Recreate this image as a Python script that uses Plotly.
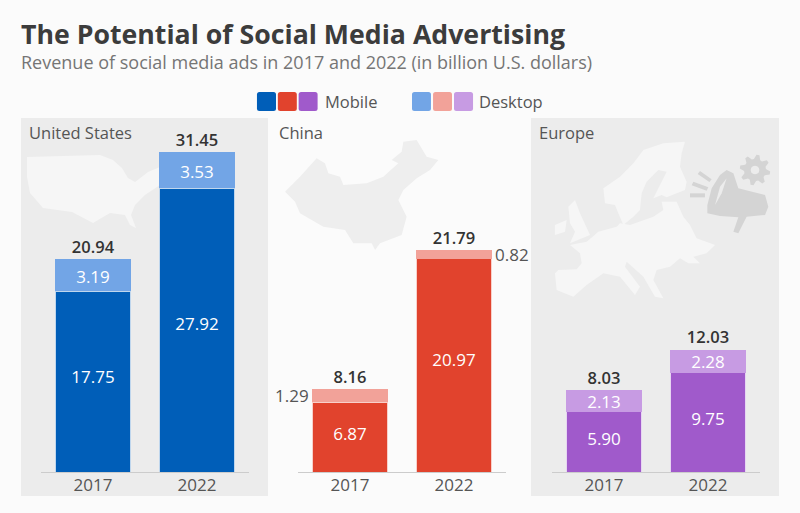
import math
import plotly.graph_objects as go

years = ["2017", "2022"]
regions = ["United States", "China", "Europe"]
mobile_us = [17.75, 27.92]
desktop_us = [3.19, 3.53]
total_us = [20.94, 31.45]
mobile_cn = [6.87, 20.97]
desktop_cn = [1.29, 0.82]
total_cn = [8.16, 21.79]
mobile_eu = [5.90, 9.75]
desktop_eu = [2.13, 2.28]
total_eu = [8.03, 12.03]
mobile_colors = ["#005eb8", "#e1432d", "#a05acb"]
desktop_colors = ["#72a5e6", "#f2a299", "#c79be3"]

W, H = 800, 513
FONT = "Open Sans"
BG = "#fbfbfb"
PANEL = "#ececec"


def px(x):
    return x / W


def py(y):
    return 1 - y / H


def path(points):
    return "M " + " L ".join(f"{px(x):.4f},{py(y):.4f}" for x, y in points) + " Z"


def zoomed(points, x0, y0):
    return [(x0 + a / 3, y0 + b / 3) for a, b in points]


fig = go.Figure()
data = [
    (mobile_us, desktop_us, total_us, "x", True),
    (mobile_cn, desktop_cn, total_cn, "x2", False),
    (mobile_eu, desktop_eu, total_eu, "x3", True),
]
for i, (mob, desk, tot, xa, show_desk) in enumerate(data):
    fig.add_bar(
        x=years, y=mob, xaxis=xa, yaxis="y", name="Mobile", showlegend=False,
        marker=dict(color=mobile_colors[i], line=dict(width=1, color="rgba(255,255,255,0.75)")),
        hoverinfo="skip",
    )
    fig.add_bar(
        x=years, y=desk, xaxis=xa, yaxis="y", name="Desktop", showlegend=False,
        marker=dict(color=desktop_colors[i], line=dict(width=0)),
        hoverinfo="skip",
    )
    fig.add_scatter(
        x=years, y=[v * 0.515 for v in mob], xaxis=xa, yaxis="y", mode="text", showlegend=False,
        text=[f"{v:.2f}" for v in mob], textposition="middle center",
        textfont=dict(color="#ffffff", size=17, family=FONT), hoverinfo="skip",
    )
    if show_desk:
        fig.add_scatter(
            x=years, y=[m + d * 0.4 for m, d in zip(mob, desk)], xaxis=xa, yaxis="y", mode="text",
            showlegend=False, text=[f"{v:.2f}" for v in desk], textposition="middle center",
            textfont=dict(color="#ffffff", size=17, family=FONT), hoverinfo="skip",
        )
    fig.add_scatter(
        x=years, y=[v + 0.2 for v in tot], xaxis=xa, yaxis="y", mode="text", showlegend=False,
        text=[f"{v:.2f}" for v in tot], textposition="top center",
        textfont=dict(color="#333333", size=16.5, family=FONT, weight=600), hoverinfo="skip",
    )

shapes = []


def rect(x0, y0, x1, y1, color, layer="below"):
    shapes.append(dict(type="rect", xref="paper", yref="paper", x0=px(x0), x1=px(x1),
                       y0=py(y1), y1=py(y0), fillcolor=color, line=dict(width=0), layer=layer))


def poly(points, color, layer="below"):
    shapes.append(dict(type="path", xref="paper", yref="paper", path=path(points),
                       fillcolor=color, line=dict(width=0), layer=layer))


def swatch(x0, y0, size, color, r=2.5):
    x1, y1 = x0 + size, y0 + size
    d = (f"M {px(x0 + r):.4f},{py(y0):.4f} L {px(x1 - r):.4f},{py(y0):.4f} "
         f"Q {px(x1):.4f},{py(y0):.4f} {px(x1):.4f},{py(y0 + r):.4f} "
         f"L {px(x1):.4f},{py(y1 - r):.4f} Q {px(x1):.4f},{py(y1):.4f} {px(x1 - r):.4f},{py(y1):.4f} "
         f"L {px(x0 + r):.4f},{py(y1):.4f} Q {px(x0):.4f},{py(y1):.4f} {px(x0):.4f},{py(y1 - r):.4f} "
         f"L {px(x0):.4f},{py(y0 + r):.4f} Q {px(x0):.4f},{py(y0):.4f} {px(x0 + r):.4f},{py(y0):.4f} Z")
    shapes.append(dict(type="path", xref="paper", yref="paper", path=d, fillcolor=color, line=dict(width=0)))


rect(21, 118, 268, 496, PANEL)
rect(531, 118, 779, 496, PANEL)

# Decorative maps
us_map = [(27, 157), (100, 155), (113, 160), (122, 168), (128, 178), (135, 182), (148, 172), (160, 167),
          (160, 185), (145, 195), (135, 205), (131, 215), (136, 228), (130, 225), (125, 215), (110, 213),
          (93, 223), (72, 212), (43, 208), (30, 193), (27, 177)]
poly(us_map, "#f6f6f6")

china_map = [(45, 215), (90, 170), (140, 115), (165, 130), (175, 160), (210, 170), (220, 195), (290, 190),
             (340, 170), (385, 130), (365, 120), (395, 95), (400, 65), (440, 60), (470, 110), (505, 120),
             (480, 150), (440, 175), (400, 210), (385, 240), (410, 290), (395, 345), (330, 370), (315, 390),
             (305, 370), (250, 370), (225, 330), (160, 320), (90, 280), (75, 245)]
poly(zoomed(china_map, 270, 120), "#eeeeee")

eu_main = [(105, 490), (115, 480), (170, 478), (185, 460), (180, 430), (150, 405), (200, 395), (235, 365),
           (290, 350), (300, 340), (330, 345), (400, 320), (430, 300), (425, 275), (470, 275), (490, 320),
           (510, 345), (530, 385), (585, 405), (560, 430), (520, 440), (540, 460), (505, 460), (480, 445),
           (450, 470), (410, 480), (400, 510), (430, 565), (405, 560), (370, 500), (320, 455), (315, 470),
           (360, 530), (345, 555), (300, 500), (250, 490), (200, 525), (160, 560), (110, 540)]
eu_scand = [(250, 235), (300, 200), (340, 160), (370, 120), (430, 100), (495, 95), (485, 130), (480, 170),
            (500, 215), (495, 240), (440, 262), (425, 255), (400, 265), (440, 185), (415, 180), (380, 215),
            (365, 250), (360, 300), (340, 320), (310, 345), (295, 310), (285, 285), (255, 280)]
eu_uk = [(145, 290), (165, 270), (180, 310), (210, 375), (150, 400), (165, 365), (150, 340)]
eu_ie = [(105, 345), (140, 330), (135, 365), (105, 375)]
for part in (eu_main, eu_scand, eu_uk, eu_ie):
    poly(zoomed(part, 520, 110), "#f6f6f6")

# Megaphone and gear
ICON = "#d4d4d4"
horn = [(562, 310), (562, 285), (575, 235), (600, 195), (620, 180), (640, 190), (655, 235), (735, 255),
        (745, 290), (735, 315), (680, 320), (655, 370), (640, 365), (655, 322), (600, 318)]
poly(zoomed(horn, 520, 110), ICON)
poly(zoomed([(585, 285), (600, 230), (620, 205), (605, 250)], 520, 110), PANEL)
for ray in ([(510, 250), (555, 250), (555, 262), (510, 262)],
            [(520, 215), (565, 232), (560, 242), (515, 226)],
            [(540, 183), (575, 208), (568, 216), (533, 192)]):
    poly(zoomed(ray, 520, 110), ICON)
gear = []
cx, cy = 705, 180
for k in range(32):
    r = 46 if k % 4 in (0, 1) else 33
    a = 2 * math.pi * (k + 0.5) / 32
    gear.append((cx + r * math.cos(a), cy + r * math.sin(a)))
poly(zoomed(gear, 520, 110), ICON)
hole = [(cx + 13 * math.cos(2 * math.pi * k / 12), cy + 13 * math.sin(2 * math.pi * k / 12)) for k in range(12)]
poly(zoomed(hole, 520, 110), PANEL)

annotations = []


def note(x, y, text, size, color, anchor="left", weight=400):
    annotations.append(dict(xref="paper", yref="paper", x=px(x), y=py(y), text=text, showarrow=False,
                            xanchor=anchor, yanchor="middle",
                            font=dict(size=size, color=color, family=FONT, weight=weight),
                            borderpad=0, borderwidth=0))


note(21, 33, "The Potential of Social Media Advertising", 26.7, "#3c3c3c", weight=700)
note(21, 62, "Revenue of social media ads in 2017 and 2022 (in billion U.S. dollars)", 18, "#757575")
note(29, 132, regions[0], 16.5, "#555555")
note(279, 132, regions[1], 16.5, "#555555")
note(539, 132, regions[2], 16.5, "#555555")
note(325, 101, "Mobile", 16.5, "#555555")
note(479, 101, "Desktop", 16.5, "#555555")

for i, c in enumerate(mobile_colors):
    swatch(257 + i * 20.8, 92, 19, c)
for i, c in enumerate(desktop_colors):
    swatch(412 + i * 21, 92, 19, c)

# China's desktop values sit beside their bars
annotations.append(dict(xref="x2", yref="y", x=0, y=mobile_cn[0] + desktop_cn[0] / 2,
                        text=f"{desktop_cn[0]:.2f}", showarrow=False, xanchor="right", xshift=-39,
                        font=dict(size=17, color="#555555", family=FONT)))
annotations.append(dict(xref="x2", yref="y", x=1, y=mobile_cn[1] + desktop_cn[1] / 2,
                        text=f"{desktop_cn[1]:.2f}", showarrow=False, xanchor="left", xshift=39,
                        font=dict(size=17, color="#555555", family=FONT)))

axis = dict(type="category", categoryorder="array", categoryarray=years, range=[-0.5, 1.5],
            showgrid=False, zeroline=False, showline=True, linecolor="#cccccc", linewidth=1,
            ticks="", tickfont=dict(size=17, color="#555555", family=FONT), fixedrange=True,
            anchor="y", automargin=False, ticklabelstandoff=-2)

fig.update_layout(
    width=W, height=H, autosize=False,
    margin=dict(l=0, r=0, t=0, b=0),
    paper_bgcolor=BG, plot_bgcolor="rgba(0,0,0,0)",
    barmode="stack", bargap=0.27, showlegend=False,
    xaxis=dict(axis, domain=[px(41), px(249)]),
    xaxis2=dict(axis, domain=[px(298), px(506)]),
    xaxis3=dict(axis, domain=[px(552), px(760)]),
    yaxis=dict(domain=[py(472), py(116)], range=[0, 35], visible=False, fixedrange=True),
    shapes=shapes, annotations=annotations,
)
fig.write_html("out.html", config=dict(displayModeBar=False),
               post_script="document.body.style.margin='0';document.body.style.background='#fbfbfb';")
